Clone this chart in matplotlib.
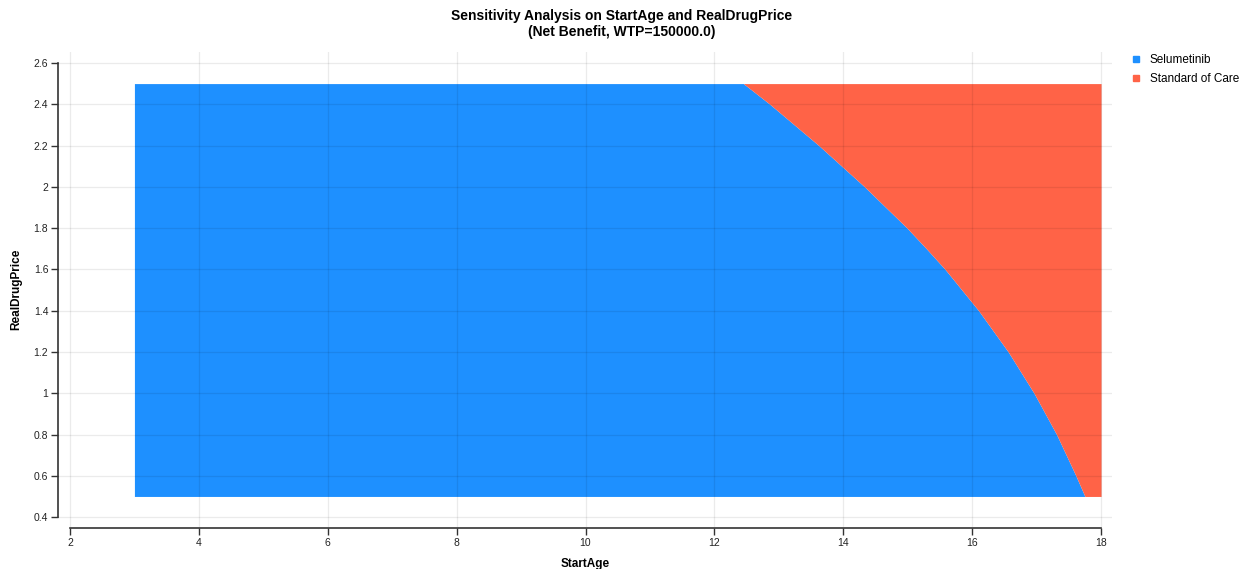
import numpy as np
import matplotlib.pyplot as plt
from matplotlib.lines import Line2D

plt.rcParams['font.family'] = ['Liberation Sans', 'DejaVu Sans']

# Sweep ranges
age_min, age_max = 3.0, 18.0
price_min, price_max = 0.5, 2.5

# StartAge above which Standard of Care wins, for each RealDrugPrice
price_levels = [0.5, 0.6, 0.8, 1.0, 1.2, 1.4, 1.6, 1.7, 1.8, 2.0, 2.2, 2.4, 2.5]
age_threshold = [17.75, 17.61, 17.31, 16.96, 16.56, 16.10, 15.58, 15.29, 14.99, 14.33, 13.62, 12.86, 12.45]

strategies = ['Selumetinib', 'Standard of Care']
colors = ['#1e90ff', '#ff6347']

xticks = [2, 4, 6, 8, 10, 12, 14, 16, 18]
yticks = [0.4, 0.6, 0.8, 1.0, 1.2, 1.4, 1.6, 1.8, 2.0, 2.2, 2.4, 2.6]
ytick_labels = ['0.4', '0.6', '0.8', '1', '1.2', '1.4', '1.6', '1.8', '2', '2.2', '2.4', '2.6']

fig = plt.figure(figsize=(12.59, 5.69), dpi=100)
ax = fig.add_axes([58 / 1259, 1 - 527 / 569, (1112 - 58) / 1259, (527 - 52) / 569])

p = np.array(price_levels)
a = np.array(age_threshold)
ax.fill_betweenx(p, age_min, a, color=colors[0], lw=0)
ax.fill_betweenx(p, a, age_max, color=colors[1], lw=0)

ax.set_xlim(1.814, 18.17)
ax.set_ylim(0.352, 2.653)
ax.set_xticks(xticks)
ax.set_yticks(yticks)
ax.set_yticklabels(ytick_labels)

ax.set_axisbelow(False)
ax.grid(True, color='#000000', alpha=0.08, lw=0.9)

for s in ['top', 'right']:
    ax.spines[s].set_visible(False)
ax.spines['left'].set_bounds(0.4, 2.6)
ax.spines['bottom'].set_bounds(2, 18)
ax.spines['bottom'].set_position(('outward', 1))
for s in ['left', 'bottom']:
    ax.spines[s].set_color('#333333')
    ax.spines[s].set_linewidth(1.2)

ax.tick_params(direction='out', length=5, width=1, colors='#333333', labelsize=7.5, pad=2)
ax.tick_params(axis='x', labelcolor='#222222')
ax.tick_params(axis='y', labelcolor='#222222')

ax.set_xlabel('StartAge', fontsize=8.5, fontweight='bold', labelpad=7)
ax.set_ylabel('RealDrugPrice', fontsize=8.5, fontweight='bold', labelpad=8)

fig.text(622 / 1259, 1 - 16 / 569, 'Sensitivity Analysis on StartAge and RealDrugPrice',
         ha='center', va='center', fontsize=10, fontweight='bold')
fig.text(622 / 1259, 1 - 32 / 569, '(Net Benefit, WTP=150000.0)',
         ha='center', va='center', fontsize=10, fontweight='bold')

handles = [Line2D([], [], marker='s', ls='', color=c, markersize=5) for c in colors]
fig.legend(handles, strategies, loc='upper left', bbox_to_anchor=(1119 / 1259, 1 - 49 / 569),
           frameon=False, fontsize=8.5, handletextpad=0.2, labelspacing=0.65, borderaxespad=0)

fig.savefig('out.png', dpi=100)
